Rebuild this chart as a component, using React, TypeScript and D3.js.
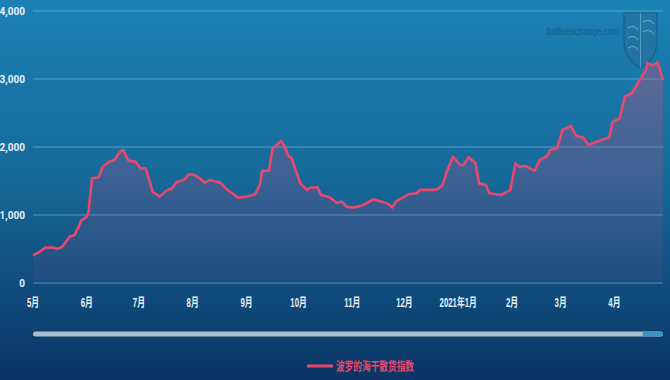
import React from "react";
import * as d3 from "d3";

const W = 670;
const H = 380;

const yTicks = [0, 1000, 2000, 3000, 4000];
const monthTicks = ["2020-05-01", "2020-06-01", "2020-07-01", "2020-08-01", "2020-09-01", "2020-10-01", "2020-11-01", "2020-12-01", "2021-01-01", "2021-02-01", "2021-03-01", "2021-04-01"];
const monthLabels = ["5月", "6月", "7月", "8月", "9月", "10月", "11月", "12月", "2021年1月", "2月", "3月", "4月"];
const seriesName = "波罗的海干散货指数";

const dates = [
  "2020-05-01", "2020-05-05", "2020-05-08", "2020-05-13", "2020-05-15", "2020-05-18", "2020-05-22", "2020-05-25", "2020-05-29",
  "2020-06-01", "2020-06-02", "2020-06-04", "2020-06-08", "2020-06-10", "2020-06-14", "2020-06-17", "2020-06-20", "2020-06-22", "2020-06-25", "2020-06-29",
  "2020-07-02", "2020-07-05", "2020-07-09", "2020-07-13", "2020-07-17", "2020-07-20", "2020-07-23", "2020-07-27", "2020-07-30",
  "2020-08-02", "2020-08-05", "2020-08-08", "2020-08-11", "2020-08-17", "2020-08-21", "2020-08-24", "2020-08-27",
  "2020-09-01", "2020-09-06", "2020-09-09", "2020-09-10", "2020-09-14", "2020-09-16", "2020-09-21", "2020-09-23", "2020-09-25", "2020-09-27",
  "2020-10-02", "2020-10-06", "2020-10-08", "2020-10-12", "2020-10-14", "2020-10-19", "2020-10-23", "2020-10-26", "2020-10-29",
  "2020-11-02", "2020-11-07", "2020-11-13", "2020-11-18", "2020-11-22", "2020-11-24", "2020-11-26",
  "2020-12-01", "2020-12-04", "2020-12-08", "2020-12-10", "2020-12-18", "2020-12-20", "2020-12-23", "2020-12-25", "2020-12-29",
  "2021-01-02", "2021-01-04", "2021-01-07", "2021-01-11", "2021-01-13", "2021-01-17", "2021-01-19", "2021-01-26", "2021-01-31",
  "2021-02-03", "2021-02-05", "2021-02-09", "2021-02-14", "2021-02-17", "2021-02-21", "2021-02-23", "2021-02-27",
  "2021-03-02", "2021-03-07", "2021-03-10", "2021-03-14", "2021-03-17", "2021-03-22", "2021-03-24", "2021-03-29", "2021-03-31",
  "2021-04-04", "2021-04-07", "2021-04-11", "2021-04-15", "2021-04-19", "2021-04-20", "2021-04-23", "2021-04-26", "2021-04-29",
];
const values = [
  405, 460, 520, 520, 500, 535, 680, 705, 925,
  975, 1050, 1540, 1555, 1710, 1785, 1810, 1930, 1955, 1800, 1785,
  1685, 1685, 1340, 1270, 1360, 1390, 1490, 1515, 1600,
  1590, 1540, 1475, 1515, 1475, 1370, 1320, 1255,
  1270, 1305, 1465, 1650, 1650, 1980, 2090, 2005, 1880, 1835,
  1465, 1370, 1405, 1405, 1295, 1260, 1180, 1195, 1120,
  1110, 1145, 1230, 1195, 1160, 1110, 1195,
  1270, 1310, 1320, 1370, 1370, 1380, 1440, 1610, 1860,
  1735, 1735, 1850, 1760, 1465, 1440, 1320, 1295, 1370,
  1760, 1710, 1720, 1650, 1810, 1860, 1955, 1980,
  2250, 2310, 2160, 2140, 2030, 2080, 2100, 2140, 2370,
  2420, 2740, 2790, 2960, 3130, 3230, 3205, 3240, 2985,
];

const parse = d3.timeParse("%Y-%m-%d");

export default function App() {
  const left = 33;
  const right = 663;
  const top = 11;
  const bottom = 283;

  const data = dates.map((d, i) => ({ date: parse(d) as Date, value: values[i] }));
  const x = d3
    .scaleTime()
    .domain([parse("2020-05-01") as Date, parse("2021-04-29") as Date])
    .range([left, right]);
  const y = d3.scaleLinear().domain([0, 4000]).range([bottom, top]);

  const line = d3
    .line<{ date: Date; value: number }>()
    .x((d) => x(d.date))
    .y((d) => y(d.value))
    .curve(d3.curveLinear);
  const area = d3
    .area<{ date: Date; value: number }>()
    .x((d) => x(d.date))
    .y0(bottom)
    .y1((d) => y(d.value))
    .curve(d3.curveLinear);

  const fmt = d3.format(",");
  const narrow = "'Liberation Sans Narrow', 'Roboto', 'DejaVu Sans Condensed', sans-serif";
  const sans = "'Liberation Sans', 'Noto Sans CJK SC', sans-serif";

  return (
    <svg
      width={W}
      height={H}
      viewBox={`0 0 ${W} ${H}`}
      style={{ position: "fixed", left: 0, top: 0, display: "block" }}
    >
      <defs>
        <linearGradient id="bg" x1="0" y1="0" x2="0" y2="1">
          <stop offset="0%" stopColor="#1b82b5" />
          <stop offset="45%" stopColor="#166b9b" />
          <stop offset="100%" stopColor="#0a3464" />
        </linearGradient>
        <linearGradient id="areaFill" x1="0" y1="0" x2="0" y2="1">
          <stop offset="0%" stopColor="#c2507e" stopOpacity={0.42} />
          <stop offset="100%" stopColor="#8a4a86" stopOpacity={0.12} />
        </linearGradient>
      </defs>
      <rect x={0} y={0} width={W} height={H} fill="url(#bg)" />

      {/* gridlines */}
      {yTicks.map((t) => (
        <g key={t}>
          <line x1={left} x2={right} y1={y(t)} y2={y(t)} stroke="#6fb4da" strokeOpacity={0.7} strokeWidth={1} />
          <text
            x={25}
            y={y(t) + 3.5}
            textAnchor="end"
            fontFamily={narrow}
            fontSize={10}
            fontWeight="bold"
            fill="#e8f0f6"
          >
            {fmt(t)}
          </text>
        </g>
      ))}

      {/* watermark */}
      <text
        x={547}
        y={35}
        fontFamily={sans}
        fontSize={11}
        fill="#165786"
        fillOpacity={0.9}
        textLength={72}
        lengthAdjust="spacingAndGlyphs"
      >
        balticexchange.com
      </text>
      <g opacity={0.55}>
        <path
          d="M624,13 L657,13 L657,40 Q657,59 640.5,68 Q624,59 624,40 Z"
          fill="#2b6e9c"
          stroke="#16507c"
          strokeWidth={1.5}
        />
        <path d="M640.5,13 L640.5,68" stroke="#9ccbe6" strokeWidth={0.8} />
        <path
          d="M628,28 Q634,24 638,30 M628,38 Q634,34 638,40 M628,48 Q634,44 638,50 M643,22 Q649,18 654,24 M643,32 Q649,28 654,34"
          stroke="#a8d4ec"
          fill="none"
          strokeWidth={1}
        />
      </g>

      {/* area + line */}
      <path d={area(data) || ""} fill="url(#areaFill)" />
      <path d={line(data) || ""} fill="none" stroke="#e8486e" strokeWidth={2.6} strokeLinejoin="round" />

      {/* x labels */}
      {monthTicks.map((m, i) => (
        <text
          key={m}
          transform={`translate(${x(parse(m) as Date)},307) scale(0.65,1)`}
          textAnchor="middle"
          fontFamily={sans}
          fontSize={12}
          fontWeight="bold"
          fill="#e8f0f6"
        >
          {monthLabels[i]}
        </text>
      ))}

      {/* scrollbar */}
      <line x1={left + 2.5} x2={right - 2.5} y1={334} y2={334} stroke="#a9bdcc" strokeWidth={5} strokeLinecap="round" />
      <line x1={645} x2={right - 2.5} y1={334} y2={334} stroke="#3a95bf" strokeWidth={5} strokeLinecap="round" />

      {/* legend */}
      <line x1={307} x2={333} y1={366} y2={366} stroke="#e8486e" strokeWidth={3} />
      <text
        x={336}
        y={371}
        fontFamily={sans}
        fontSize={12}
        fontWeight="bold"
        fill="#e8486e"
        textLength={78}
        lengthAdjust="spacingAndGlyphs"
      >
        {seriesName}
      </text>
    </svg>
  );
}
